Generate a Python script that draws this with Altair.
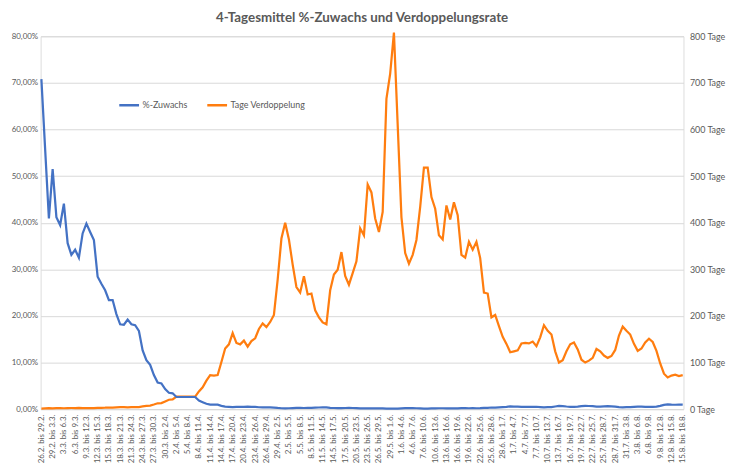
import datetime as dt
import altair as alt
import pandas as pd

# daily category labels: "d.m. bis d.m." (4-day windows), 26.2. .. 15.8.
start = dt.date(2020, 2, 26)
n_days = 172
labels = []
for i in range(n_days):
    a = start + dt.timedelta(days=i)
    b = a + dt.timedelta(days=3)
    labels.append(f"{a.day}.{a.month}. bis {b.day}.{b.month}.")
tick_labels = labels[::3]

# %-Zuwachs (4-day mean daily growth, in %)
zuwachs = [
    70.8, 55.8, 40.9, 51.5, 41.2, 39.5, 44.1, 35.6, 33.1, 34.2,
    32.5, 37.7, 39.8, 38.0, 36.3, 28.4, 26.9, 25.5, 23.4, 23.4,
    20.4, 18.2, 18.1, 19.2, 18.2, 18.0, 16.8, 12.6, 10.5, 9.5,
    7.3, 5.7, 5.5, 4.3, 3.5, 3.4, 2.6, 2.6, 2.6, 2.6,
    2.6, 2.6, 1.84, 1.49, 1.14, 0.95, 0.97, 0.95, 0.69, 0.54,
    0.50, 0.43, 0.49, 0.50, 0.47, 0.52, 0.48, 0.46, 0.40, 0.38,
    0.39, 0.37, 0.34, 0.25, 0.19, 0.17, 0.19, 0.22, 0.26, 0.28,
    0.24, 0.28, 0.28, 0.33, 0.35, 0.37, 0.38, 0.27, 0.24, 0.23,
    0.21, 0.24, 0.26, 0.24, 0.22, 0.18, 0.19, 0.14, 0.15, 0.17,
    0.18, 0.16, 0.10, 0.10, 0.09, 0.11, 0.17, 0.21, 0.22, 0.21,
    0.19, 0.16, 0.13, 0.13, 0.15, 0.16, 0.19, 0.19, 0.16, 0.17,
    0.16, 0.17, 0.21, 0.21, 0.19, 0.20, 0.19, 0.21, 0.28, 0.28,
    0.35, 0.34, 0.39, 0.45, 0.50, 0.57, 0.56, 0.55, 0.49, 0.49,
    0.49, 0.48, 0.51, 0.45, 0.39, 0.41, 0.43, 0.56, 0.69, 0.66,
    0.56, 0.50, 0.49, 0.54, 0.65, 0.69, 0.67, 0.63, 0.54, 0.56,
    0.60, 0.63, 0.61, 0.55, 0.44, 0.39, 0.41, 0.43, 0.50, 0.55,
    0.53, 0.49, 0.46, 0.48, 0.55, 0.71, 0.92, 1.02, 0.96, 0.94,
    0.98, 0.95,
]

# Tage Verdoppelung (doubling time in days)
verdoppelung = [
    1.3, 1.6, 2.0, 1.7, 2.0, 2.1, 1.9, 2.3, 2.4, 2.35,
    2.45, 2.15, 2.1, 2.15, 2.2, 2.8, 2.9, 3.0, 3.3, 3.3,
    3.7, 4.1, 4.2, 3.9, 4.1, 4.2, 4.5, 5.8, 6.9, 7.6,
    9.8, 12.5, 12.9, 16.5, 20.1, 20.7, 27, 27, 27, 27,
    27, 27, 38, 47, 61, 73, 72, 73, 101, 130,
    139, 163, 142, 139, 147, 134, 146, 152, 172, 184,
    176, 187, 202, 278, 366, 400, 364, 310, 262, 250,
    285, 246, 248, 212, 197, 186, 182, 255, 289, 299,
    337, 286, 267, 292, 317, 388, 373, 482, 465, 409,
    380, 423, 666, 720, 808, 610, 412, 335, 312, 331,
    363, 434, 518, 518, 455, 430, 373, 364, 437, 407,
    444, 416, 331, 325, 359, 342, 359, 324, 250, 248,
    197, 202, 178, 155, 140, 122, 124, 126, 141, 142,
    141, 145, 135, 154, 180, 168, 160, 124, 100, 105,
    124, 139, 143, 128, 106, 100, 104, 110, 129, 124,
    115, 110, 114, 127, 158, 177, 168, 160, 140, 125,
    130, 143, 151, 144, 125, 98, 76, 68, 72, 74,
    71, 73,
]

series_names = ["%-Zuwachs", "Tage Verdoppelung"]
series_colors = ["#4472C4", "#FF7D0F"]

df = pd.concat([
    pd.DataFrame({"label": labels, "series": series_names[0], "value": zuwachs}),
    pd.DataFrame({"label": labels, "series": series_names[1], "value": verdoppelung}),
])

FONT = "Lato"
GREY = "#595959"

x_enc = alt.X(
    "label:N", sort=labels,
    scale=alt.Scale(type="point", padding=0.2),
    axis=alt.Axis(values=tick_labels, labelAngle=-90, labelFontSize=8,
                  labelColor=GREY, labelFont=FONT, ticks=False, domain=True,
                  domainColor="#d9d9d9", title=None, labelPadding=5,
                  grid=False, labelOverlap=False),
)

color_enc = alt.Color(
    "series:N",
    scale=alt.Scale(domain=series_names, range=series_colors),
    legend=alt.Legend(orient="none", legendX=78, legendY=58, direction="horizontal",
                      title=None, symbolType="stroke", symbolSize=400,
                      symbolStrokeWidth=2.5, labelFontSize=9, labelColor=GREY,
                      labelFont=FONT, columnPadding=14, labelOffset=2),
)

base = alt.Chart(df)

orange = base.transform_filter(alt.datum.series == series_names[1]).mark_line(
    strokeWidth=2.25
).encode(
    x=x_enc,
    y=alt.Y("value:Q", scale=alt.Scale(domain=[0, 800], nice=False),
            axis=alt.Axis(orient="right", values=list(range(0, 801, 100)),
                          labelExpr="datum.value + ' Tage'", grid=False,
                          domain=False, ticks=False, title=None, labelPadding=6,
                          labelFontSize=9, labelColor=GREY, labelFont=FONT)),
    color=color_enc,
)

blue = base.transform_filter(alt.datum.series == series_names[0]).mark_line(
    strokeWidth=2.25
).encode(
    x=x_enc,
    y=alt.Y("value:Q", scale=alt.Scale(domain=[0, 80], nice=False),
            axis=alt.Axis(orient="left", values=list(range(0, 81, 10)),
                          labelExpr="replace(format(datum.value/100, '.2%'), '.', ',')",
                          grid=True, gridColor="#d9d9d9", domain=False, ticks=False,
                          title=None, labelPadding=3, labelFontSize=8,
                          labelColor=GREY, labelFont=FONT)),
    color=color_enc,
)

chart = alt.layer(orange, blue).resolve_scale(y="independent").properties(
    width=650, height=377,
    title=alt.TitleParams("4-Tagesmittel %-Zuwachs und Verdoppelungsrate",
                          fontSize=13.5, font=FONT, fontWeight="bold", color=GREY,
                          anchor="middle", offset=4),
    autosize=alt.AutoSizeParams(type="none"),
    padding={"left": 33, "top": 26, "right": 43, "bottom": 63},
).configure_view(stroke=None).configure(background="white")

chart.save("out.html", embed_options={"renderer": "svg", "actions": False})
